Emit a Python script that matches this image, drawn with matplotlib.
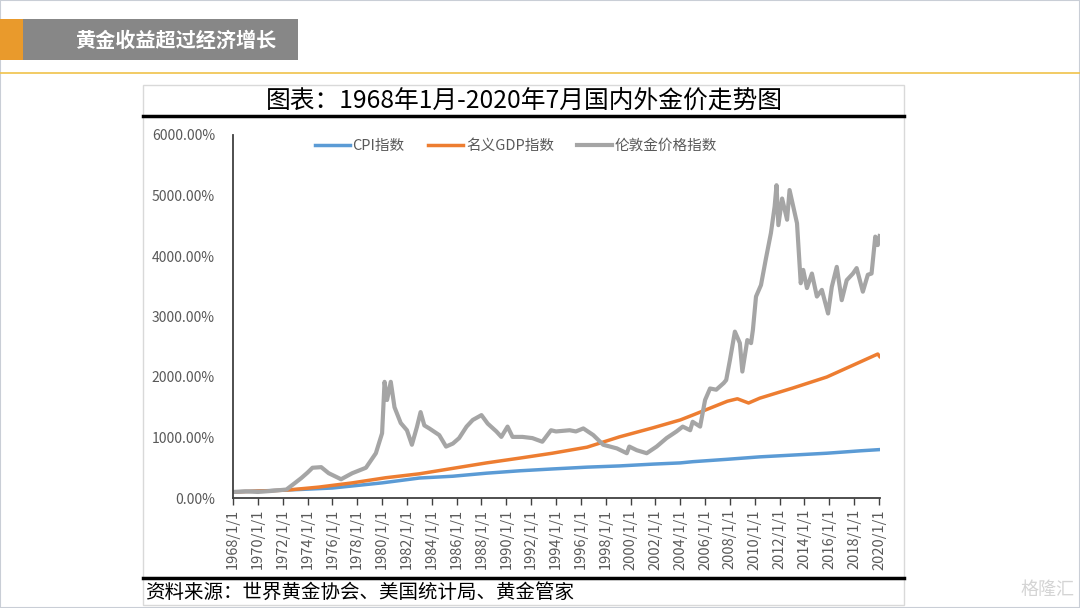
import matplotlib
matplotlib.use("Agg")
import matplotlib.pyplot as plt
from matplotlib.patches import Rectangle
from matplotlib.lines import Line2D
from matplotlib.ticker import FuncFormatter

plt.rcParams['font.family'] = ['Noto Sans CJK SC', 'DejaVu Sans']

# values (decimal year, index in %)
cpi_t = [1968.0, 1973.3, 1976.0, 1980.0, 1983.0, 1985.7, 1988.4, 1991.1, 1993.7, 1996.5,
         1999.1, 2001.8, 2004.0, 2005.0, 2007.8, 2010.4, 2013.1, 2015.8, 2018.5, 2020.05]
cpi_v = [100, 140, 165, 250, 330, 360, 410, 450, 480, 510,
         530, 560, 580, 600, 640, 680, 710, 740, 780, 800]

gdp_t = [1968.0, 1972.3, 1974.9, 1977.6, 1980.3, 1983.0, 1985.7, 1988.4, 1991.1, 1993.7,
         1996.5, 1999.1, 2001.8, 2004.0, 2005.0, 2007.8, 2008.6, 2009.5, 2010.4, 2013.1,
         2015.8, 2018.5, 2019.9, 2020.05]
gdp_v = [100, 130, 180, 250, 335, 400, 490, 580, 660, 740,
         840, 1010, 1160, 1290, 1370, 1600, 1640, 1570, 1650, 1820,
         2000, 2250, 2380, 2340]

gold_t = [1968.0, 1969.0, 1970.0, 1971.0, 1972.3, 1973.0, 1973.5, 1974.0, 1974.4, 1975.1,
          1975.7, 1976.7, 1977.6, 1978.7, 1979.5, 1980.0, 1980.2, 1980.4, 1980.7, 1981.0,
          1981.5, 1982.0, 1982.4, 1982.8, 1983.1, 1983.4, 1983.8, 1984.6, 1985.15, 1985.7,
          1986.2, 1986.8, 1987.3, 1988.0, 1988.5, 1989.2, 1989.6, 1990.1, 1990.5, 1991.3,
          1992.1, 1992.9, 1993.6, 1994.0, 1995.1, 1995.6, 1996.2, 1997.0, 1997.8, 1998.9,
          1999.7, 1999.9, 2000.5, 2001.3, 2002.1, 2002.9, 2003.7, 2004.2, 2004.8, 2005.0,
          2005.6, 2006.0, 2006.4, 2006.9, 2007.5, 2007.7, 2008.0, 2008.4, 2008.8, 2009.0,
          2009.4, 2009.7, 2009.85, 2010.1, 2010.5, 2010.9, 2011.3, 2011.6, 2011.75, 2011.9,
          2012.2, 2012.6, 2012.8, 2013.4, 2013.7, 2013.9, 2014.2, 2014.6, 2015.0, 2015.4,
          2015.9, 2016.2, 2016.6, 2017.0, 2017.4, 2017.9, 2018.2, 2018.7, 2019.1, 2019.4,
          2019.7, 2019.9, 2020.05]
gold_v = [100, 110, 100, 115, 140, 250, 330, 420, 500, 510,
          410, 310, 410, 500, 740, 1070, 1920, 1620, 1920, 1500,
          1240, 1120, 880, 1170, 1420, 1200, 1150, 1040, 850, 900,
          990, 1180, 1290, 1370, 1230, 1100, 1010, 1180, 1010, 1010,
          990, 930, 1120, 1100, 1120, 1100, 1150, 1040, 880, 820,
          740, 850, 790, 740, 850, 990, 1100, 1180, 1120, 1260,
          1180, 1620, 1810, 1790, 1900, 1950, 2280, 2750, 2560, 2090,
          2610, 2560, 2780, 3330, 3520, 3960, 4380, 4820, 5170, 4510,
          4950, 4600, 5090, 4540, 3550, 3770, 3470, 3710, 3330, 3440,
          3050, 3490, 3820, 3270, 3600, 3710, 3800, 3410, 3690, 3710,
          4320, 4180, 4330]

tick_years = list(range(1968, 2021, 2))
tick_labels = [f"{y}/1/1" for y in tick_years]

series_names = ["CPI指数", "名义GDP指数", "伦敦金价格指数"]

W, H = 1080, 608


def fx(x):
    return x / W


def fy(y):
    return 1 - y / H


fig = plt.figure(figsize=(10.8, 6.08), dpi=100)

# page frame and header
fig.add_artist(Rectangle((0, 0), 1, 1, transform=fig.transFigure, fill=False,
                         edgecolor='#c9ced6', linewidth=1.5))
fig.add_artist(Rectangle((fx(0), fy(60)), fx(23), 41 / H, transform=fig.transFigure,
                         facecolor='#e99a2c', edgecolor='none'))
fig.add_artist(Rectangle((fx(23), fy(60)), fx(275), 41 / H, transform=fig.transFigure,
                         facecolor='#878787', edgecolor='none'))
fig.text(fx(75), fy(40), "黄金收益超过经济增长", color='white', fontsize=14.5,
         fontweight='bold', ha='left', va='center')
fig.add_artist(Line2D([0, 1], [fy(73), fy(73)], transform=fig.transFigure,
                      color='#f0c24a', linewidth=1.2))

# chart panel
fig.add_artist(Rectangle((fx(143), fy(605)), fx(904 - 143), (605 - 85) / H,
                         transform=fig.transFigure, fill=False,
                         edgecolor='#d9d9d9', linewidth=1))
fig.text(fx(524), fy(101), "图表：1968年1月-2020年7月国内外金价走势图", color='black',
         fontsize=17.8, ha='center', va='center')
fig.add_artist(Line2D([fx(143), fx(904)], [fy(116), fy(116)], transform=fig.transFigure,
                      color='black', linewidth=2.5))
fig.add_artist(Line2D([fx(143), fx(904)], [fy(578), fy(578)], transform=fig.transFigure,
                      color='black', linewidth=2.5))
fig.text(fx(145), fy(592), "资料来源：世界黄金协会、美国统计局、黄金管家", color='black',
         fontsize=14, ha='left', va='center')
fig.text(fx(1075), fy(590), "格隆汇", color='#d4d4d4', fontsize=13,
         ha='right', va='center')

ax = fig.add_axes([fx(233), fy(498), fx(880 - 233), (498 - 135) / H])
ax.plot(cpi_t, cpi_v, color='#5b9bd5', linewidth=2.5, label=series_names[0])
ax.plot(gdp_t, gdp_v, color='#ed7d31', linewidth=2.5, label=series_names[1])
ax.plot(gold_t, gold_v, color='#a5a5a5', linewidth=3.0, label=series_names[2])

ax.set_xlim(1968, 2020.08)
ax.set_ylim(0, 6000)
ax.set_yticks(range(0, 6001, 1000))
ax.yaxis.set_major_formatter(FuncFormatter(lambda v, p: f"{v:.2f}%"))
ax.set_xticks(tick_years)
ax.set_xticklabels(tick_labels, rotation=90)

for s in ['top', 'right']:
    ax.spines[s].set_visible(False)
for s in ['left', 'bottom']:
    ax.spines[s].set_color('#404040')
    ax.spines[s].set_linewidth(1.3)
ax.tick_params(axis='y', length=0, pad=13, labelsize=10, labelcolor='#595959')
ax.tick_params(axis='x', length=5, width=1, color='#404040', direction='out',
               pad=3, labelsize=10.5, labelcolor='#595959')

ax.legend(loc='center', bbox_to_anchor=(fx(516), fy(146)),
          bbox_transform=fig.transFigure, ncol=3, frameon=False, fontsize=10.5,
          labelcolor='#595959', handlelength=2.4, handletextpad=0.2,
          columnspacing=1.6)

fig.savefig("out.png", dpi=100)
